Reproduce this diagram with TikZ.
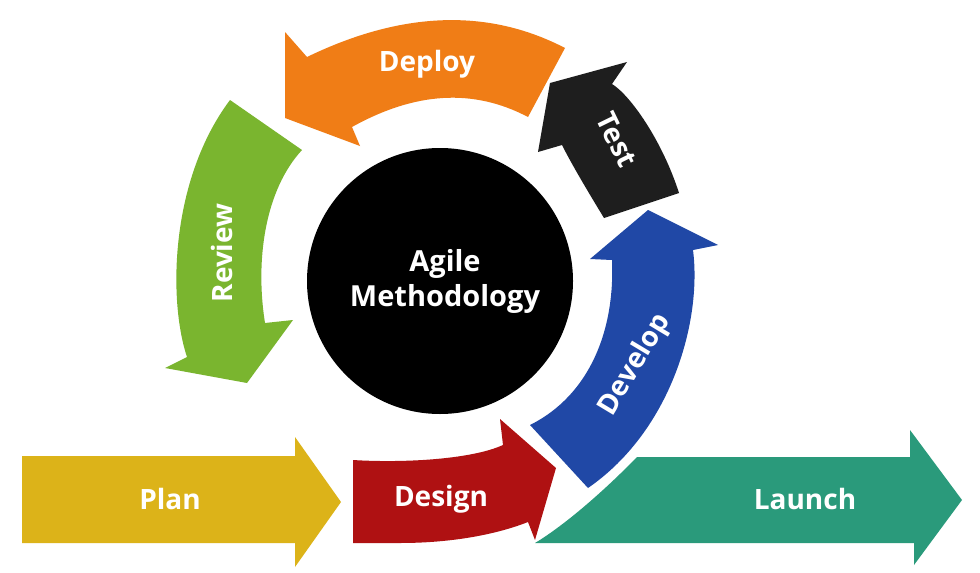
\documentclass[tikz,border=0pt]{standalone}
\usepackage{fontspec}
\setmainfont{Open Sans}
\definecolor{cOrange}{HTML}{F07D16}
\definecolor{cGreen}{HTML}{7AB52F}
\definecolor{cTest}{HTML}{1E1E1E}
\definecolor{cBlue}{HTML}{2048A6}
\definecolor{cRed}{HTML}{AF1112}
\definecolor{cYellow}{HTML}{DCB319}
\definecolor{cTeal}{HTML}{2A9A7B}
\begin{document}
\begin{tikzpicture}[x=1pt,y=-1pt,
  lbl/.style={text=white,font=\fontsize{28}{32}\selectfont\bfseries,inner sep=0pt}]
\useasboundingbox (0,0) rectangle (980,573);
\fill[white] (0,0) rectangle (980,573);
% Deploy (orange)
\fill[cOrange] (285,32) -- (285,118) -- (360,146) -- (352,127)
  .. controls (415,92) and (473,88) .. (528,117)
  -- (565,48)
  .. controls (488,8) and (402,11) .. (307,57) -- cycle;
% Review (green)
\fill[cGreen] (230,100) -- (302,150)
  .. controls (265,190) and (255,260) .. (265,323)
  -- (293,320) -- (247,383) -- (165,368) -- (187,357)
  .. controls (168,300) and (170,180) .. (230,100) -- cycle;
% Test (black)
\fill[cTest] (550,83) -- (627,62) -- (612,84)
  .. controls (630,95) and (662,140) .. (679,193)
  -- (604,218)
  .. controls (590,195) and (572,165) .. (562,145)
  -- (538,152) -- cycle;
% Develop (blue)
\fill[cBlue] (648,210) -- (718,245) -- (693,250)
  .. controls (702,320) and (672,430) .. (588,488)
  -- (530,425)
  .. controls (590,395) and (615,330) .. (612,260)
  -- (590,259) -- cycle;
% Design (red)
\fill[cRed] (353,460) .. controls (400,463) and (470,460) .. (503,445)
  -- (500,419) -- (556,468) -- (535,540) -- (528,522)
  .. controls (495,535) and (450,543) .. (400,543)
  -- (353,543) -- cycle;
% Plan (yellow)
\fill[cYellow] (22,456) -- (295,456) -- (295,437) -- (341,502) -- (295,567)
  -- (295,543) -- (22,543) -- cycle;
% Launch (teal)
\fill[cTeal] (637,457) -- (910,457) -- (910,430) -- (962,500) -- (914,565)
  -- (914,543) -- (535,543)
  .. controls (565,525) and (605,490) .. (637,457) -- cycle;
% centre
\fill[black] (440,281) circle[radius=133];
\node[lbl,align=center,font=\fontsize{29}{35}\selectfont\bfseries] (agile) at (445,281) {Agile\\Methodology};
\node[lbl] (deploy) at (427,64) {Deploy};
\node[lbl,rotate=-64] (test) at (617,140) {Test};
\node[lbl,rotate=90] (review) at (222,253) {Review};
\node[lbl,rotate=59] (develop) at (635,365) {Develop};
\node[lbl] (design) at (441,499) {Design};
\node[lbl] (plan) at (170,499) {Plan};
\node[lbl] (launch) at (805,499) {Launch};
\end{tikzpicture}
\end{document}
